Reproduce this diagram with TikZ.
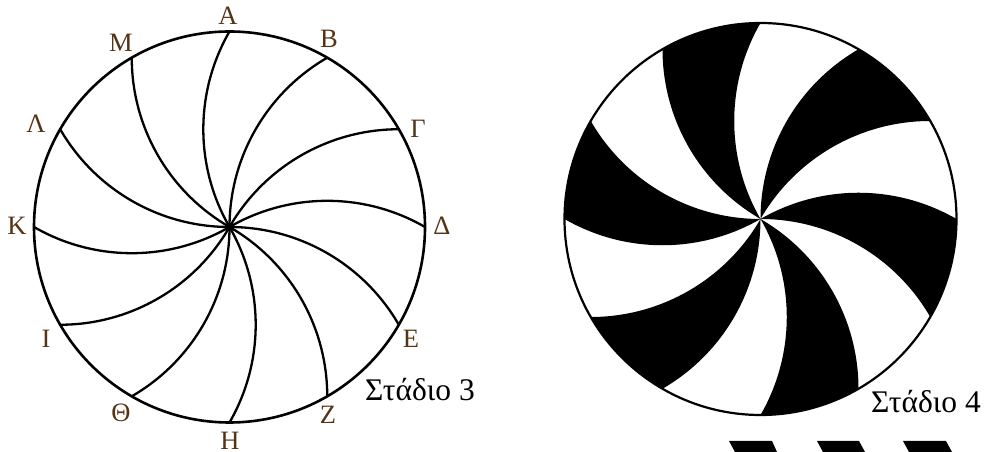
\documentclass[tikz,border=0pt]{standalone}
\usepackage{fontspec}
\setmainfont{Liberation Serif}
\definecolor{lbl}{RGB}{84,52,20}
\tikzset{
  x=1pt,y=1pt,
  rimline/.style={draw=black,line width=2.6pt},
  spoke/.style={draw=black,line width=2.3pt},
  ptlabel/.style={inner sep=0pt,text=lbl,font=\fontsize{26.5}{26.5}\selectfont},
  stage/.style={inner sep=0pt,anchor=west,text=black,font=\fontsize{31.5}{31.5}\selectfont}
}
\begin{document}
\begin{tikzpicture}
\useasboundingbox (0,0) rectangle (988,452);
% Left wheel
\def\lr{195.5pt}
\coordinate (c) at (229.5,225);
\foreach \t in {0,30,...,330}{
  \draw[spoke] (c) arc[start angle=\t+120,end angle=\t+60,radius=\lr];
}
\draw[rimline] (c) circle[radius=\lr];
\node[ptlabel] (nA) at (228,436) {Α};
\node[ptlabel] (nB) at (329,413) {Β};
\node[ptlabel] (nG) at (418,323) {Γ};
\node[ptlabel] (nD) at (442,226) {Δ};
\node[ptlabel] (nE) at (411,113) {Ε};
\node[ptlabel] (nZ) at (328,37) {Ζ};
\node[ptlabel] (nH) at (230,11) {Η};
\node[ptlabel] (nT) at (121,39) {Θ};
\node[ptlabel] (nI) at (46,113) {Ι};
\node[ptlabel] (nK) at (17,226) {Κ};
\node[ptlabel] (nL) at (36,328) {Λ};
\node[ptlabel] (nM) at (121,409) {Μ};
\node[stage] (s3) at (365,62) {Στάδιο 3};
% Right wheel
\def\rr{196pt}
\coordinate (d) at (760.5,233);
\foreach \t in {0,60,...,300}{
  \fill[black] (d) arc[start angle=\t+120,end angle=\t+60,radius=\rr]
     arc[start angle=\t,end angle=\t-30,radius=\rr]
     arc[start angle=\t+30,end angle=\t+90,radius=\rr] -- cycle;
}
\draw[rimline,line width=2.2pt] (d) circle[radius=\rr];
\node[stage] (s4) at (871,50) {Στάδιο 4};
% Bottom marks
\fill[black] (729,11) -- (772,11) -- (777,0) -- (735,0) -- cycle;
\fill[black] (817,11) -- (859,11) -- (865,0) -- (823,0) -- cycle;
\fill[black] (903,11) -- (946,11) -- (952,0) -- (909,0) -- cycle;
\end{tikzpicture}
\end{document}
